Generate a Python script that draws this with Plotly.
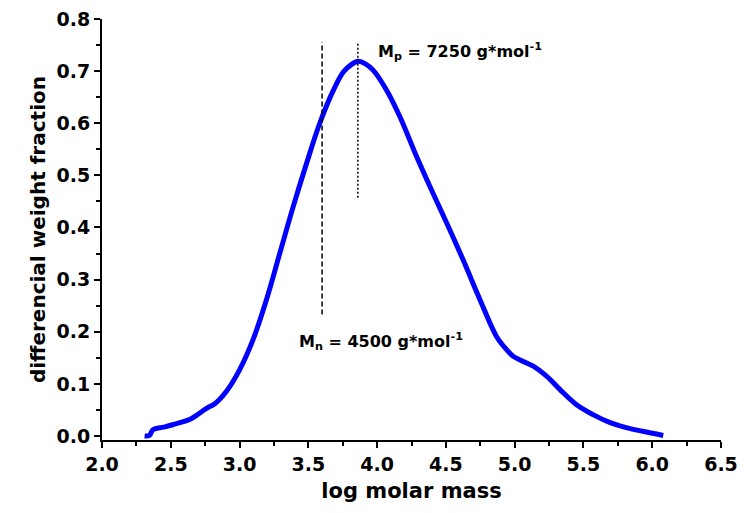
import plotly.graph_objects as go

# Molar mass distribution
log_m = [2.31, 2.345, 2.37, 2.45, 2.52, 2.64, 2.70, 2.76, 2.82, 2.905, 3.0, 3.098, 3.196,
         3.293, 3.39, 3.487, 3.583, 3.68, 3.753, 3.81, 3.862, 3.915, 3.971, 4.068, 4.165,
         4.287, 4.383, 4.505, 4.625, 4.747, 4.868, 4.94, 4.989, 5.087, 5.135,
         5.232, 5.33, 5.45, 5.57, 5.69, 5.81, 5.93, 6.08]
wfrac = [0.0, 0.001, 0.012, 0.017, 0.022, 0.032, 0.042, 0.053, 0.062, 0.086, 0.127, 0.185,
         0.262, 0.351, 0.440, 0.523, 0.600, 0.662, 0.698, 0.712, 0.719, 0.714, 0.702,
         0.664, 0.613, 0.536, 0.479, 0.409, 0.338, 0.262, 0.191, 0.166, 0.153,
         0.140, 0.134, 0.115, 0.089, 0.060, 0.041, 0.026, 0.016, 0.009, 0.001]

mn_x = [3.6, 3.6]
mn_y = [0.233, 0.756]
mp_x = [3.86, 3.86]
mp_y = [0.457, 0.756]

x_ticks = [2.0, 2.5, 3.0, 3.5, 4.0, 4.5, 5.0, 5.5, 6.0, 6.5]
y_ticks = [0.0, 0.1, 0.2, 0.3, 0.4, 0.5, 0.6, 0.7, 0.8]

FONT = "DejaVu Sans"

fig = go.Figure()
fig.add_trace(go.Scatter(x=log_m, y=wfrac, mode="lines",
                         line=dict(color="#0000FF", width=5, shape="spline", smoothing=1.0),
                         showlegend=False))
fig.add_trace(go.Scatter(x=mn_x, y=mn_y, mode="lines",
                         line=dict(color="black", width=1.5, dash="5px,3px"),
                         showlegend=False))
fig.add_trace(go.Scatter(x=mp_x, y=mp_y, mode="lines",
                         line=dict(color="black", width=1.5, dash="2px,2px"),
                         showlegend=False))

fig.add_annotation(x=3.995, y=0.738, xref="x", yref="y", xanchor="left", yanchor="middle",
                   text="M<sub>p</sub> = 7250 g*mol<sup>-1</sup>", showarrow=False,
                   font=dict(family=FONT, size=16, color="black", weight="bold"))
fig.add_annotation(x=3.415, y=0.181, xref="x", yref="y", xanchor="left", yanchor="middle",
                   text="M<sub>n</sub> = 4500 g*mol<sup>-1</sup>", showarrow=False,
                   font=dict(family=FONT, size=16, color="black", weight="bold"))

axis_common = dict(showline=True, linecolor="black", linewidth=2, ticks="outside",
                   ticklen=6, tickwidth=2, tickcolor="black", showgrid=False,
                   zeroline=False, automargin=False, ticklabeloverflow="allow",
                   tickfont=dict(family=FONT, size=19, color="black", weight="bold"))

fig.update_xaxes(range=[2.0, 6.5], tickvals=x_ticks,
                 ticktext=[f"{v:.1f}" for v in x_ticks],
                 minor=dict(ticks="outside", dtick=0.25, ticklen=4, tickwidth=2, tickcolor="black"),
                 title=dict(text="log molar mass",
                            font=dict(family=FONT, size=21, color="black", weight="bold"),
                            standoff=10),
                 **axis_common)
fig.update_yaxes(range=[-0.0077, 0.8], tickvals=y_ticks,
                 ticktext=[f"{v:.1f}" for v in y_ticks],
                 minor=dict(ticks="outside", dtick=0.05, ticklen=4, tickwidth=2, tickcolor="black"),
                 title=dict(text="differencial weight fraction",
                            font=dict(family=FONT, size=20, color="black", weight="bold"),
                            standoff=6),
                 **axis_common)

fig.update_layout(width=756, height=513, paper_bgcolor="white", plot_bgcolor="white",
                  margin=dict(l=94, r=43, t=11, b=81))

fig.write_html("out.html")
